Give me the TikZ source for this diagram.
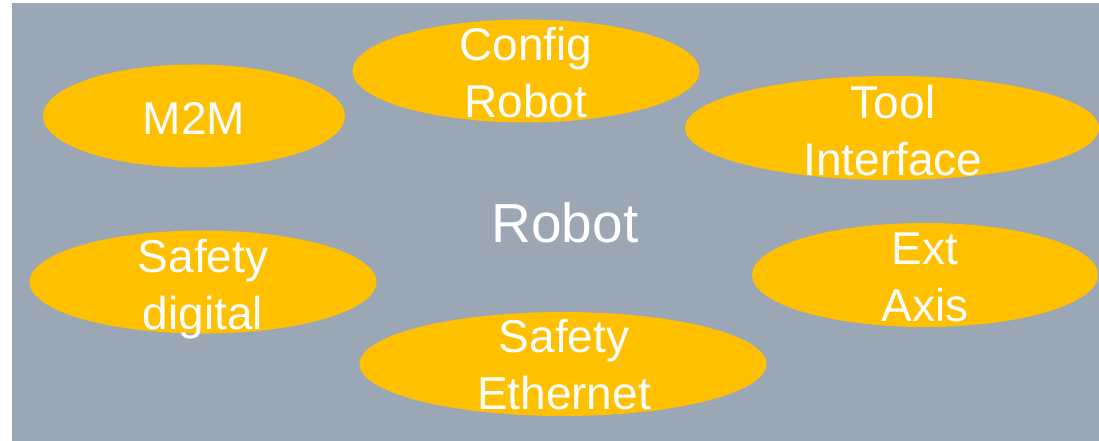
\documentclass[tikz,border=0pt]{standalone}
\usepackage{fontspec}
\setmainfont{Liberation Sans}
\usetikzlibrary{shapes.geometric}
\definecolor{panel}{RGB}{155,167,181}
\definecolor{amber}{RGB}{255,192,0}
\tikzset{
  blob/.style={ellipse, fill=amber, draw=none, inner sep=0pt},
  lbl/.style={text=white, align=center, anchor=base, inner sep=0pt,
    font=\fontsize{46bp}{57bp}\selectfont},
}
\begin{document}
\begin{tikzpicture}[x=1bp, y=-1bp]
  \useasboundingbox (0,0) rectangle (1099,441);
  % panel
  \fill[panel] (12,3) rectangle (1099,441);
  % ellipses
  \node[blob, minimum width=302bp, minimum height=103bp] (m2m)  at (194,116) {};
  \node[blob, minimum width=347bp, minimum height=103bp] (cfg)  at (526,71)  {};
  \node[blob, minimum width=414bp, minimum height=104bp] (tool) at (892,128) {};
  \node[blob, minimum width=346bp, minimum height=104bp] (ext)  at (925,275) {};
  \node[blob, minimum width=347bp, minimum height=103bp] (sdig) at (203,282) {};
  \node[blob, minimum width=407bp, minimum height=104bp] (seth) at (563,364) {};
  % labels (anchored on the baseline of the last line)
  \node[lbl] (m2mT)  at (194,135) {M2M};
  \node[lbl] (cfgT)  at (526,118) {Config\\Robot};
  \node[lbl] (toolT) at (893,176) {Tool\\Interface};
  \node[lbl] (extT)  at (925,322) {Ext\\Axis};
  \node[lbl] (sdigT) at (203,330) {Safety\\digital};
  \node[lbl] (sethT) at (564,410) {Safety\\Ethernet};
  \node[lbl, font=\fontsize{55bp}{66bp}\selectfont] (robot) at (565,243) {Robot};
\end{tikzpicture}
\end{document}
